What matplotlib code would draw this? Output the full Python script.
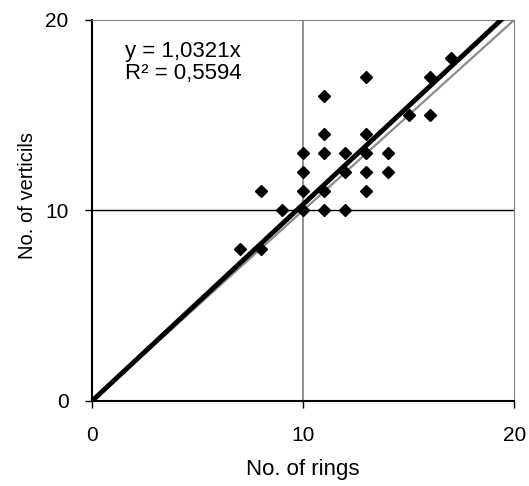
import numpy as np
import matplotlib.pyplot as plt

plt.rcParams['font.family'] = ['Liberation Sans', 'DejaVu Sans']

# rings vs verticils per sample
rings = [7, 8, 8, 9, 10, 10, 10, 10, 11, 11, 11, 11, 11, 12, 12, 12,
         13, 13, 13, 13, 13, 14, 14, 15, 16, 16, 17]
verticils = [8, 8, 11, 10, 10, 11, 12, 13, 10, 11, 13, 14, 16, 10, 12, 13,
             11, 12, 13, 14, 17, 12, 13, 15, 15, 17, 18]
slope = 1.0321
r2 = 0.5594

fig = plt.figure(figsize=(5.29, 4.86), dpi=100)
ax = fig.add_axes([0.174, 0.175, 0.798, 0.784])

# grid lines like the spreadsheet default
ax.axvline(10, color='#808080', lw=1.2, zorder=1)
ax.axhline(10, color='black', lw=1.0, zorder=1)

xs = np.array([0, 20])
ax.plot(xs, xs, color='#8c8c8c', lw=1.6, zorder=2)
ax.plot(xs, slope * xs, color='black', lw=3.5, zorder=3)
ax.plot(rings, verticils, 'D', color='black', ms=6.5, zorder=4)

eq = 'y = {}x\nR² = {}'.format(f'{slope:.4f}'.replace('.', ','),
                              f'{r2:.4f}'.replace('.', ','))
ax.text(1.55, 18.9, eq, fontsize=16, va='top', ha='left', linespacing=1.05)

ax.set_xlim(0, 20)
ax.set_ylim(0, 20)
ax.set_xticks([0, 10, 20])
ax.set_yticks([0, 10, 20])
ax.tick_params(labelsize=15, length=5, width=1, direction='out')
ax.tick_params(axis='x', pad=13)
ax.tick_params(axis='y', pad=12)
ax.spines['top'].set_color('#808080')
ax.spines['right'].set_color('#808080')
ax.spines['left'].set_linewidth(1.5)
ax.spines['bottom'].set_linewidth(1.5)
ax.set_xlabel('No. of rings', fontsize=16, labelpad=10)
ax.set_ylabel('No. of verticils', fontsize=14.5, labelpad=14)
ax.yaxis.set_label_coords(-0.13, 0.54)

fig.savefig('out.png', dpi=100)
